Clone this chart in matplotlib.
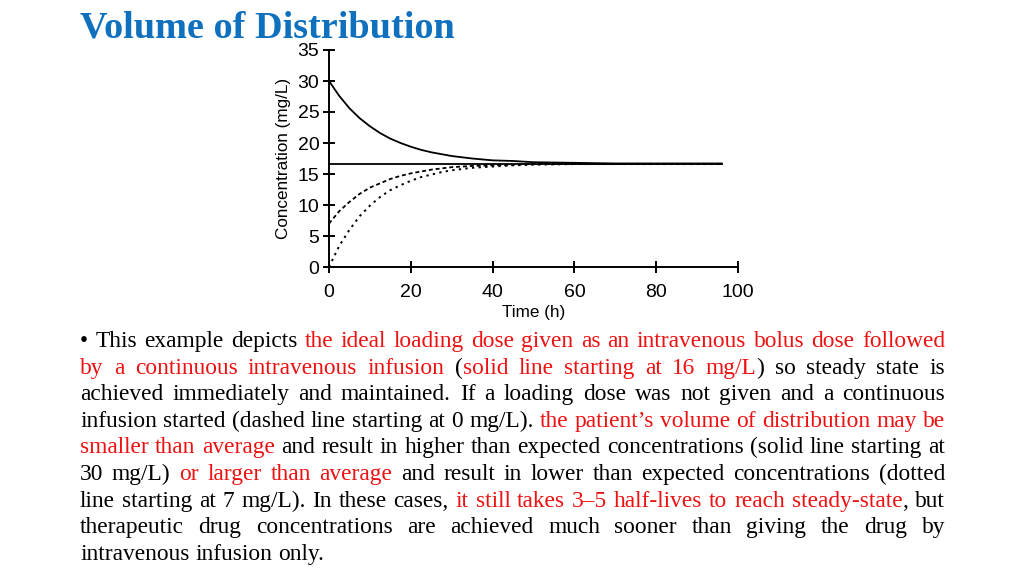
import matplotlib
matplotlib.use("Agg")
import matplotlib.pyplot as plt

# concentration curves
time_h = [0, 2.5, 5, 7.5, 10, 12.5, 15, 17.5, 20, 22.5, 25, 27.5, 30, 35, 40, 45, 50, 60, 70, 80, 96]
conc_small_vd = [30.0, 27.6, 25.6, 24.0, 22.7, 21.6, 20.7, 20.0, 19.4, 18.9, 18.5, 18.2, 17.9, 17.5, 17.2, 17.1, 16.9, 16.8, 16.7, 16.7, 16.7]
conc_large_vd = [7.0, 9.0, 10.5, 11.8, 12.8, 13.5, 14.2, 14.7, 15.1, 15.4, 15.7, 15.9, 16.1, 16.3, 16.4, 16.5, 16.6, 16.6, 16.6, 16.6, 16.6]
conc_infusion = [0.0, 3.4, 6.0, 8.2, 9.9, 11.3, 12.4, 13.2, 13.9, 14.5, 14.9, 15.3, 15.6, 16.0, 16.2, 16.4, 16.5, 16.6, 16.6, 16.6, 16.6]
time_ss = [0, 96]
conc_ss = [16.6, 16.6]

x_ticks = [0, 20, 40, 60, 80, 100]
y_ticks = [0, 5, 10, 15, 20, 25, 30, 35]

RED = "#EE1111"
BLACK = "black"
BLUE = "#0F70BE"

paragraph = [
    [("\u2022 This example depicts ", BLACK), ("the ideal loading dose given as an intravenous bolus dose followed", RED)],
    [("by a continuous intravenous infusion", RED), (" (", BLACK), ("solid line starting at 16 mg/L", RED), (") so steady state is", BLACK)],
    [("achieved immediately and maintained. If a loading dose was not given and a continuous", BLACK)],
    [("infusion started (dashed line starting at 0 mg/L). ", BLACK), ("the patient\u2019s volume of distribution may be", RED)],
    [("smaller than average", RED), (" and result in higher than expected concentrations (solid line starting at", BLACK)],
    [("30 mg/L) ", BLACK), ("or larger than average", RED), (" and result in lower than expected concentrations (dotted", BLACK)],
    [("line starting at 7 mg/L). In these cases, ", BLACK), ("it still takes 3\u20135 half-lives to reach steady-state", RED), (", but", BLACK)],
    [("therapeutic drug concentrations are achieved much sooner than giving the drug by", BLACK)],
    [("intravenous infusion only.", BLACK)],
]

W, H = 1024, 576
fig = plt.figure(figsize=(W / 100, H / 100), dpi=100)

fig.text(80 / W, 1 - 37 / H, "Volume of Distribution", family="Liberation Serif",
         weight="bold", fontsize=27.5, color=BLUE, ha="left", va="baseline")

# chart
ax = fig.add_axes([329 / W, 1 - 267 / H, 409 / W, 217 / H])
ax.plot(time_ss, conc_ss, color="black", lw=1.3)
ax.plot(time_h, conc_small_vd, color="black", lw=1.3)
ax.plot(time_h, conc_large_vd, color="black", lw=1.3, ls=(0, (2.2, 1.6)))
ax.plot(time_h, conc_infusion, color="black", lw=1.4, ls=(0, (1.2, 2.2)))

ax.set_xlim(0, 100)
ax.set_ylim(0, 35)
ax.set_xticks(x_ticks)
ax.set_yticks(y_ticks)
ax.spines["top"].set_visible(False)
ax.spines["right"].set_visible(False)
for s in ("left", "bottom"):
    ax.spines[s].set_linewidth(1.4)
ax.tick_params(axis="both", direction="inout", length=8, width=1.4, labelsize=14)
ax.tick_params(axis="x", pad=8)
ax.tick_params(axis="y", pad=3)
for lab in ax.get_xticklabels() + ax.get_yticklabels():
    lab.set_family("Liberation Sans")
ax.set_xlabel("Time (h)", family="Liberation Sans", fontsize=12.3, labelpad=3)
ax.set_ylabel("Concentration (mg/L)", family="Liberation Sans", fontsize=12.3, labelpad=5)

# justified paragraph
renderer = fig.canvas.get_renderer()
left, right = 80, 945
base0, step = 347, 26.6
fsize = 16.8


def width_of(s):
    t = fig.text(0, 0, s, family="Liberation Serif", fontsize=fsize)
    w = t.get_window_extent(renderer).width
    t.remove()
    return w


space_w = width_of("a a") - width_of("aa")

for i, segs in enumerate(paragraph):
    words, cur = [], []
    for seg, col in segs:
        parts = seg.split(" ")
        for j, p in enumerate(parts):
            if j > 0:
                if cur:
                    words.append(cur)
                cur = []
            if p:
                cur.append((p, col))
    if cur:
        words.append(cur)
    widths = [[width_of(p) for p, _ in w] for w in words]
    total = sum(sum(w) for w in widths)
    if i < len(paragraph) - 1:
        gap = (right - left - total) / (len(words) - 1)
    else:
        gap = space_w
    x = left
    y = base0 + i * step
    for w, ws in zip(words, widths):
        for (p, col), pw in zip(w, ws):
            fig.text(x / W, 1 - y / H, p, family="Liberation Serif", fontsize=fsize,
                     color=col, ha="left", va="baseline")
            x += pw
        x += gap

fig.savefig("out.png", dpi=100)
